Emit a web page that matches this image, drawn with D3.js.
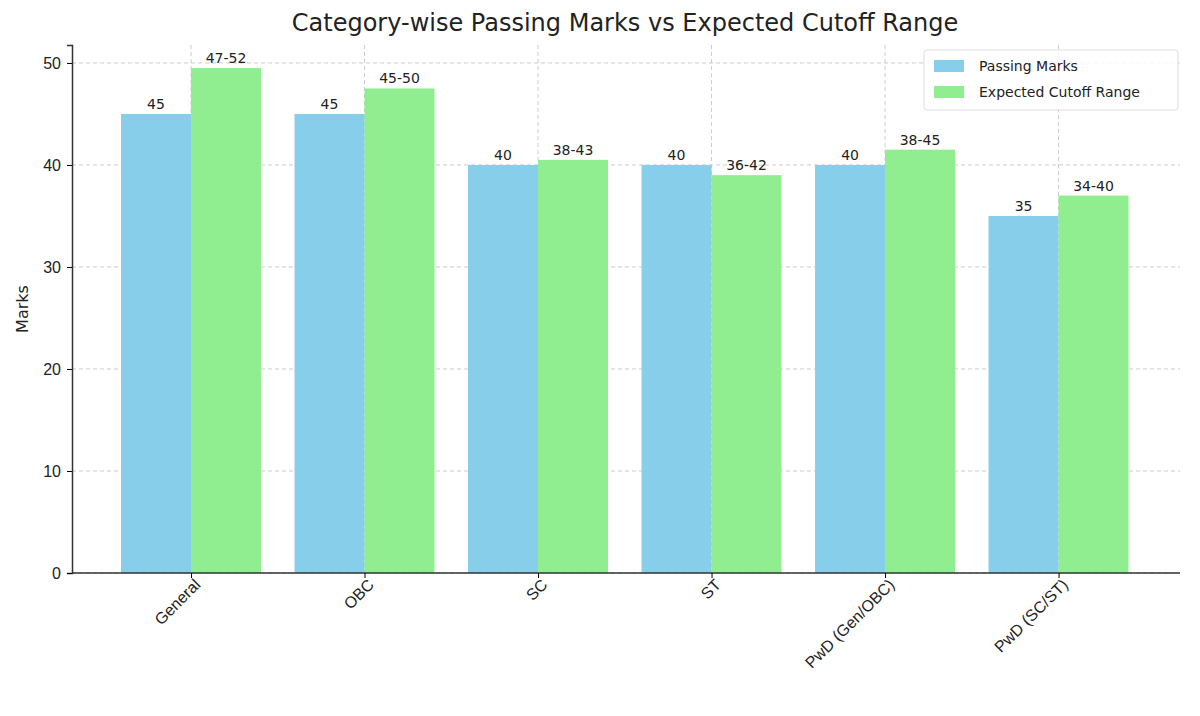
<!DOCTYPE html>
<html><head><meta charset="utf-8">
<script src="https://cdn.jsdelivr.net/npm/d3@7"></script>
<style>body{margin:0;background:#fff;font-family:"DejaVu Sans",sans-serif}</style>
</head><body><svg id="c" width="1200" height="716"></svg>
<script>
var categories = ["General", "OBC", "SC", "ST", "PwD (Gen/OBC)", "PwD (SC/ST)"];
var passing = [45, 45, 40, 40, 40, 35];
var expected = [49.5, 47.5, 40.5, 39, 41.5, 37];
var expectedLabels = ["47-52", "45-50", "38-43", "36-42", "38-45", "34-40"];
var yTicks = [0, 10, 20, 30, 40, 50];

var svg = d3.select("#c"),
    padL = 72, padR = 1180, padT = 45, padB = 573,
    bw = 70;

var x = d3.scaleLinear().domain([-0.686, 5.7]).range([padL, padR]),
    y = d3.scaleLinear().domain([0, 51.76]).range([padB, padT]);

// grid
svg.append("g").selectAll("line").data(yTicks).enter().append("line")
    .attr("x1", padL).attr("x2", padR).attr("y1", y).attr("y2", y)
    .attr("stroke", "#ccc").attr("stroke-dasharray", "4,3");
svg.append("g").selectAll("line").data(categories).enter().append("line")
    .attr("x1", function(d, i) { return x(i); }).attr("x2", function(d, i) { return x(i); })
    .attr("y1", padT).attr("y2", padB)
    .attr("stroke", "#ccc").attr("stroke-dasharray", "4,3");

function bars(vals, labels, off, color) {
  var g = svg.append("g");
  g.selectAll("rect").data(vals).enter().append("rect")
      .attr("x", function(d, i) { return x(i) + off; })
      .attr("y", y).attr("width", bw)
      .attr("height", function(d) { return padB - y(d); })
      .attr("fill", color);
  g.selectAll("text").data(vals).enter().append("text")
      .attr("x", function(d, i) { return x(i) + off + bw / 2; })
      .attr("y", function(d) { return y(d) - 5; })
      .attr("text-anchor", "middle").attr("font-size", 14).attr("fill", "#222")
      .text(function(d, i) { return labels[i]; });
}
bars(passing, passing.map(String), -bw, "#87CEEB");
bars(expected, expectedLabels, 0, "#90EE90");

// axes
var ya = svg.append("g").attr("transform", "translate(" + padL + ",0)")
    .call(d3.axisLeft(y).tickValues(yTicks).tickSize(5).tickPadding(6));
ya.selectAll("text").attr("font-size", 16).attr("fill", "#222");
var xa = svg.append("g").attr("transform", "translate(0," + padB + ")")
    .call(d3.axisBottom(x).tickValues(d3.range(categories.length))
      .tickFormat(function(i) { return categories[i]; }).tickSize(5));
xa.selectAll("text").attr("font-size", 16).attr("fill", "#222")
    .attr("text-anchor", "end").attr("dx", "-2").attr("dy", "8")
    .attr("transform", "rotate(-45)");
svg.selectAll(".domain").attr("stroke", "#333").attr("stroke-width", 1.5);
xa.select(".domain").attr("d", "M" + padL + ",0H" + padR);

svg.append("text").attr("x", 625).attr("y", 31).attr("text-anchor", "middle")
    .attr("font-size", 24).attr("fill", "#222")
    .text("Category-wise Passing Marks vs Expected Cutoff Range");
svg.append("text").attr("transform", "translate(28,309) rotate(-90)")
    .attr("text-anchor", "middle").attr("font-size", 16).attr("fill", "#222").text("Marks");

// legend
var lg = svg.append("g").attr("transform", "translate(924,50)");
lg.append("rect").attr("width", 254).attr("height", 60).attr("rx", 3)
    .attr("fill", "#fff").attr("fill-opacity", 0.85).attr("stroke", "#ddd");
[["Passing Marks", "#87CEEB"], ["Expected Cutoff Range", "#90EE90"]].forEach(function(d, i) {
  lg.append("rect").attr("x", 10).attr("y", 10 + i * 26).attr("width", 30).attr("height", 12).attr("fill", d[1]);
  lg.append("text").attr("x", 55).attr("y", 21 + i * 26).attr("font-size", 14).attr("fill", "#222").text(d[0]);
});
</script></body></html>
